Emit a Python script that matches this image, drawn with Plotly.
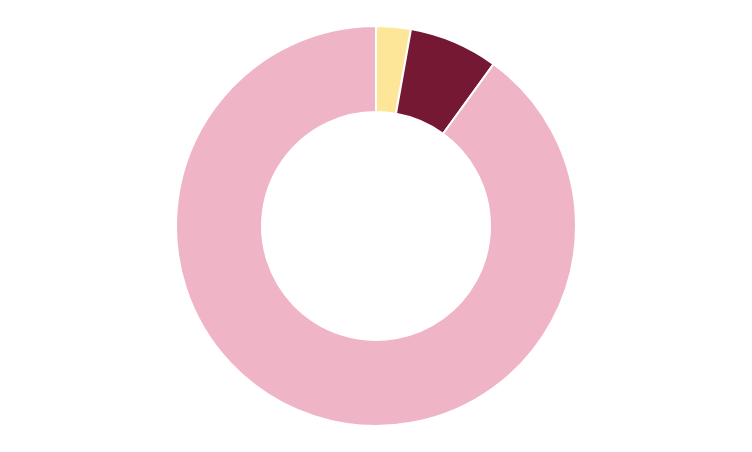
import plotly.graph_objects as go

labels = ["A", "B", "C"]
values = [2.8, 7.2, 90.0]
colors = ["#FEE699", "#741834", "#F0B4C7"]

fig = go.Figure(go.Pie(
    labels=labels,
    values=values,
    hole=0.57,
    sort=False,
    direction="clockwise",
    rotation=0,
    marker=dict(colors=colors, line=dict(color="white", width=2)),
    textinfo="none",
    hoverinfo="label+value",
))
fig.update_layout(
    width=752, height=452,
    margin=dict(l=0, r=16, t=18, b=34),
    showlegend=False,
    paper_bgcolor="white",
    plot_bgcolor="white",
)
fig.write_html("out.html")
